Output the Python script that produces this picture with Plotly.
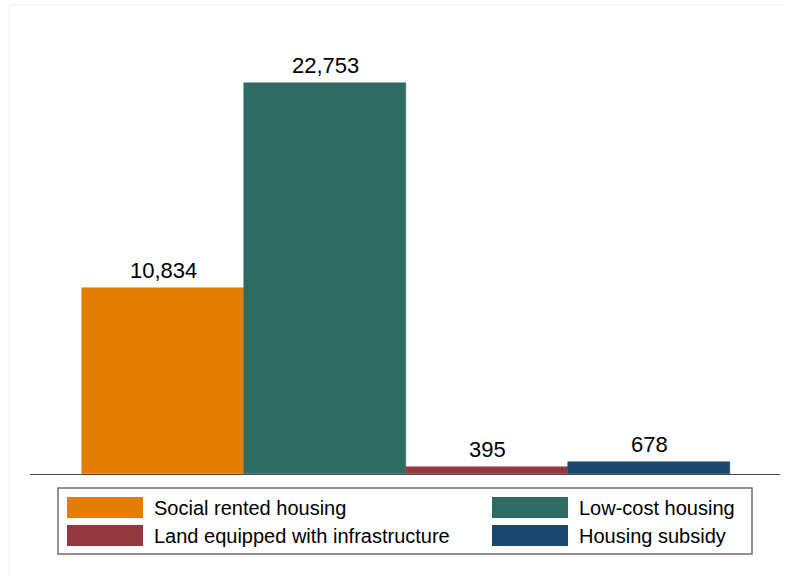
import plotly.graph_objects as go

# Housing support delivered, by programme
categories = ["Social rented housing", "Low-cost housing",
              "Land equipped with infrastructure", "Housing subsidy"]
values = [10834, 22753, 395, 678]
colors = ["#E37E00", "#2E6B63", "#943740", "#1A476F"]
label_text = [f"{v:,}" for v in values]

W, H = 785, 575
ML, MR, MT, MB = 30, 5, 20, 101
PW, PH = W - ML - MR, H - MT - MB


def px_x(px):
    return (px - ML) / PW


def px_y(py):
    return (H - MB - py) / PH


FONT = "Liberation Sans, Arial, Helvetica, sans-serif"

fig = go.Figure()
positions = list(range(len(categories)))
for i, (cat, val, col) in enumerate(zip(categories, values, colors)):
    fig.add_trace(go.Bar(
        x=[positions[i]], y=[val], name=cat, width=1.0,
        marker=dict(color=col, line=dict(color=col, width=0.5)),
        showlegend=False, hoverinfo="name+y",
    ))
    fig.add_annotation(
        x=positions[i], y=val, text=label_text[i], showarrow=False,
        yanchor="bottom", yshift=3,
        font=dict(family=FONT, size=22, color="#000000"),
    )

# Two-column legend box below the plot
fig.add_shape(type="rect", xref="paper", yref="paper",
              x0=px_x(58), x1=px_x(752), y0=px_y(554), y1=px_y(488),
              line=dict(color="#6e6e6e", width=1.5), fillcolor="white")
legend_slots = [(67, 497), (492, 497), (67, 525), (492, 525)]
legend_order = [0, 1, 2, 3]
for (sx, sy), idx in zip(legend_slots, legend_order):
    fig.add_shape(type="rect", xref="paper", yref="paper",
                  x0=px_x(sx), x1=px_x(sx + 76), y0=px_y(sy + 21), y1=px_y(sy),
                  line=dict(width=0), fillcolor=colors[idx])
    fig.add_annotation(xref="paper", yref="paper",
                       x=px_x(sx + 85), y=px_y(sy + 10.5),
                       xanchor="left", yanchor="middle", showarrow=False,
                       text=categories[idx],
                       font=dict(family=FONT, size=20, color="#000000"))

# Faint outer frame of the graph region
fig.add_shape(type="rect", xref="paper", yref="paper",
              x0=px_x(9), x1=px_x(800), y0=px_y(600), y1=px_y(5),
              line=dict(color="#efefef", width=1), fillcolor="rgba(0,0,0,0)",
              layer="below")

fig.update_layout(
    width=W, height=H,
    margin=dict(l=ML, r=MR, t=MT, b=MB),
    paper_bgcolor="white", plot_bgcolor="white",
    bargap=0, showlegend=False,
    xaxis=dict(range=[-133 / 162, 617 / 162], showticklabels=False,
               showgrid=False, zeroline=False, ticks="",
               showline=True, linecolor="#4a4a4a", linewidth=1),
    yaxis=dict(range=[0, 22753 * PH / 391], visible=False,
               showgrid=False, zeroline=False),
)

fig.write_html("out.html")
